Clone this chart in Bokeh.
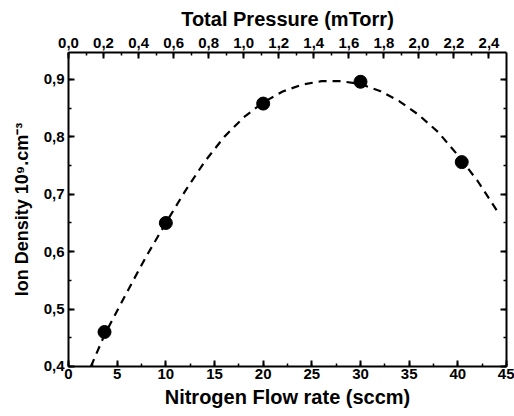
from bokeh.plotting import figure
from bokeh.models import Range1d, LinearAxis, SingleIntervalTicker, CustomJSTickFormatter
from bokeh.embed import file_html
from bokeh.resources import INLINE

# measured data points
flow = [3.7, 10, 20, 30, 40.4]
density = [0.46, 0.65, 0.858, 0.896, 0.756]

# dashed fit curve
fit_flow = [2.3, 3.7, 5, 6.5, 8, 10, 12, 14, 16, 18, 20, 22, 24, 26, 28, 30,
            32, 34, 36, 38, 40, 42, 44]
fit_density = [0.400, 0.455, 0.497, 0.545, 0.592, 0.650, 0.706, 0.757, 0.800,
               0.834, 0.860, 0.879, 0.891, 0.897, 0.897, 0.892, 0.880, 0.862,
               0.838, 0.808, 0.768, 0.724, 0.672]

x_title = "Nitrogen Flow rate (sccm)"
top_title = "Total Pressure (mTorr)"
y_title = "Ion Density 10\u2079.cm\u207b\u00b3"

FONT = "Liberation Sans"

p = figure(width=514, height=416, output_backend="svg", toolbar_location=None,
           x_range=Range1d(0, 45), y_range=Range1d(0.3999, 0.947))
p.extra_x_ranges = {"pressure": Range1d(0, 2.5)}
p.min_border_left = 68
p.min_border_right = 8
p.min_border_top = 52
p.min_border_bottom = 50
p.outline_line_color = None
p.xgrid.visible = False
p.ygrid.visible = False
p.background_fill_color = "white"
p.border_fill_color = "white"


def style(ax, title_size="20px"):
    ax.axis_line_width = 2
    ax.axis_line_color = "black"
    ax.major_tick_in = 6
    ax.major_tick_out = 0
    ax.minor_tick_in = 3
    ax.minor_tick_out = 0
    ax.major_tick_line_width = 2
    ax.minor_tick_line_width = 1.5
    ax.major_tick_line_color = "black"
    ax.minor_tick_line_color = "black"
    ax.major_label_text_font = FONT
    ax.major_label_text_font_style = "bold"
    ax.major_label_text_font_size = "15px"
    ax.major_label_text_color = "black"
    ax.major_label_standoff = 3
    ax.axis_label_text_font = FONT
    ax.axis_label_text_font_style = "bold"
    ax.axis_label_text_font_size = title_size
    ax.axis_label_text_color = "black"
    ax.axis_label_standoff = 4


xb = p.xaxis[0]
style(xb)
xb.ticker = SingleIntervalTicker(interval=5, num_minor_ticks=2)
xb.formatter = CustomJSTickFormatter(code="return tick.toFixed(0);")
xb.axis_label = x_title
xb.major_label_standoff = 2
xb.axis_label_standoff = 4

yl = p.yaxis[0]
style(yl, "18px")
yl.ticker = SingleIntervalTicker(interval=0.1, num_minor_ticks=2)
yl.formatter = CustomJSTickFormatter(code="return tick.toFixed(1).replace('.', ',');")
yl.axis_label = y_title
yl.major_label_orientation = "horizontal"
yl.major_label_standoff = 4
yl.axis_label_standoff = 9

xt = LinearAxis(x_range_name="pressure", axis_label=top_title)
style(xt)
xt.ticker = SingleIntervalTicker(interval=0.2, num_minor_ticks=2)
xt.formatter = CustomJSTickFormatter(code="return tick.toFixed(1).replace('.', ',');")
xt.major_label_standoff = 5
xt.axis_label_standoff = 5
p.add_layout(xt, "above")

yr = LinearAxis()
style(yr)
yr.ticker = SingleIntervalTicker(interval=0.1, num_minor_ticks=2)
yr.formatter = CustomJSTickFormatter(code="return '';")
yr.major_label_standoff = 0
p.add_layout(yr, "right")

p.line(fit_flow, fit_density, line_color="black", line_width=2.2, line_dash="8 6")
p.scatter(flow, density, size=13, fill_color="black", line_color="black")

open("out.html", "w").write(file_html(p, INLINE))
